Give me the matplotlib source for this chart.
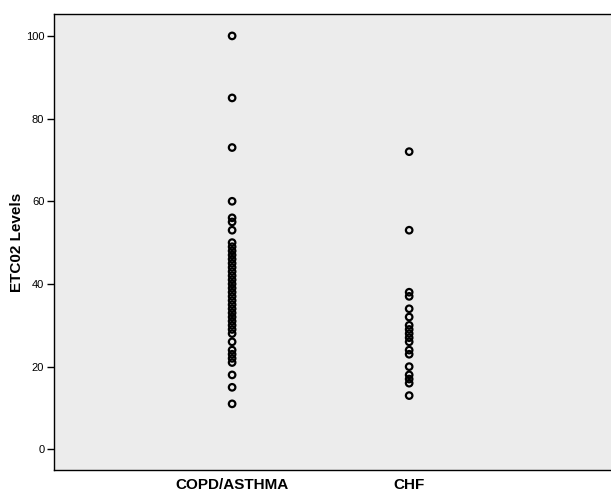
import matplotlib
matplotlib.use("Agg")
import matplotlib.pyplot as plt

categories = ["COPD/ASTHMA", "CHF"]
copd_values = [100, 85, 73, 60, 56, 55, 53] + list(range(50, 27, -1)) + [26, 24, 23, 22, 21, 18, 15, 11]
chf_values = [72, 53, 38, 37, 34, 32, 30, 29, 28, 27, 26, 24, 23, 20, 18, 17, 16, 13]
yticks = [0, 20, 40, 60, 80, 100]

plt.rcParams['font.family'] = ['Liberation Sans', 'DejaVu Sans']
fig = plt.figure(figsize=(6.11, 4.94), dpi=100)
ax = fig.add_axes([54/611, 24/494, 1 - 54/611, (470-14)/494])
ax.set_facecolor('#ECECEC')

for i, vals in enumerate([copd_values, chf_values]):
    ax.scatter([i]*len(vals), vals, s=22, facecolors='none', edgecolors='black', linewidths=1.6, zorder=3)

ax.set_ylim(-5.0, 105.3)
ax.set_xlim(-1.006, 2.14)
ax.set_yticks(yticks)
ax.set_yticklabels([str(t) for t in yticks], fontsize=8)
ax.set_xticks([0, 1])
ax.set_xticklabels(categories, fontsize=11, fontweight='bold')
ax.tick_params(axis='x', length=0, pad=6)
ax.tick_params(axis='y', length=5, width=1, direction='out', pad=2)
ax.set_ylabel('ETC02 Levels', fontsize=11, fontweight='bold', labelpad=1)
for s in ['left', 'bottom', 'top']:
    ax.spines[s].set_color('black')
    ax.spines[s].set_linewidth(1.0)
ax.spines['right'].set_visible(False)

fig.savefig('out.png', dpi=100)
